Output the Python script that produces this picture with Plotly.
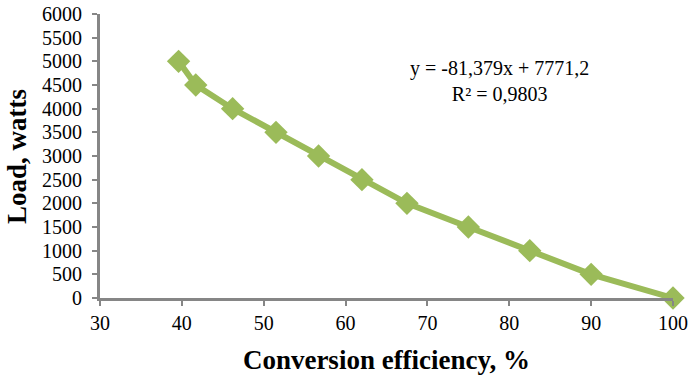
import plotly.graph_objects as go

efficiency = [39.6, 41.7, 46.2, 51.5, 56.7, 62.0, 67.5, 75.0, 82.5, 90.0, 100.0]
load = [5000, 4500, 4000, 3500, 3000, 2500, 2000, 1500, 1000, 500, 0]
x_ticks = list(range(30, 101, 10))
y_ticks = list(range(0, 6001, 500))
equation_text = "y = -81,379x + 7771,2<br>R² = 0,9803"
x_title = "<b>Conversion efficiency, %</b>"
y_title = "<b>Load, watts</b>"

green = "#9BBB59"
axis_color = "#868686"
font_family = "Liberation Serif, Times New Roman, serif"

fig = go.Figure()
fig.add_trace(go.Scatter(
    x=efficiency, y=load, mode="lines+markers",
    line=dict(color=green, width=6),
    marker=dict(symbol="diamond", size=18, color=green),
    showlegend=False, cliponaxis=False,
))

fig.add_annotation(
    x=0.698, y=0.765, xref="paper", yref="paper",
    xanchor="center", yanchor="middle",
    text=equation_text, showarrow=False, align="center",
    font=dict(family=font_family, size=20, color="black"),
)
fig.add_annotation(
    x=-0.145, y=0.5, xref="paper", yref="paper",
    xanchor="center", yanchor="middle", textangle=-90,
    text=y_title, showarrow=False,
    font=dict(family=font_family, size=27, color="black"),
)

fig.update_xaxes(
    range=[30, 100], tickvals=x_ticks,
    showgrid=False, zeroline=False, automargin=False,
    showline=True, linecolor=axis_color, linewidth=3,
    ticks="outside", ticklen=5, tickwidth=2, tickcolor=axis_color,
    tickfont=dict(family=font_family, size=20, color="black"),
    title=dict(text=x_title, standoff=20,
               font=dict(family=font_family, size=27, color="black")),
)
fig.update_yaxes(
    range=[0, 6000], tickvals=y_ticks,
    showgrid=False, zeroline=False, automargin=False,
    showline=True, linecolor=axis_color, linewidth=3,
    ticks="outside", ticklen=11, tickwidth=2, tickcolor="rgba(0,0,0,0)",
    minor=dict(tickvals=y_ticks, ticks="outside", ticklen=5,
               tickwidth=2, tickcolor=axis_color, showgrid=False),
    tickfont=dict(family=font_family, size=20, color="black"),
)

fig.update_layout(
    width=689, height=375,
    margin=dict(l=100, r=16, t=14, b=77),
    plot_bgcolor="white", paper_bgcolor="white",
)

fig.write_html("out.html")
